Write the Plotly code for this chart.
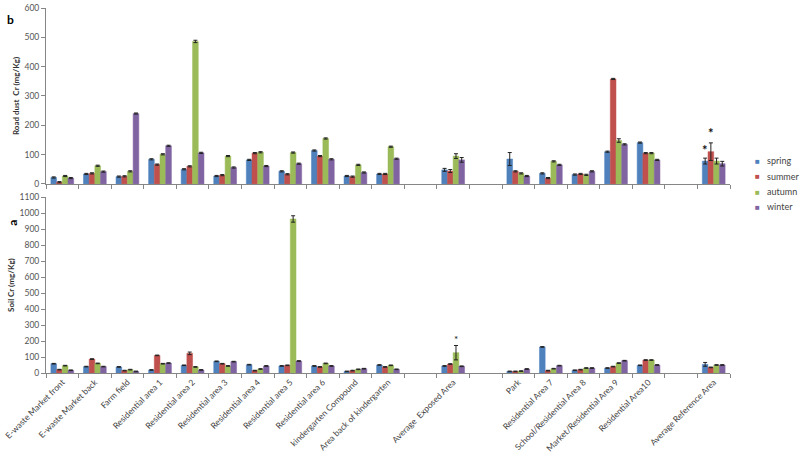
import plotly.graph_objects as go
from plotly.subplots import make_subplots

categories = ["E-waste Market front", "E-waste Market back", "Farm field", "Residential area 1",
              "Residential area 2", "Residential area 3", "Residential area 4", "Residential area 5",
              "Residential area 6", "kindergarten Compound", "Area back of kindergarten", " ",
              "Average  Exposed Area", "  ", "Park", "Residential Area 7", "School/Residential Area 8",
              "Market/Residential Area 9", "Residential Area10", "   ", "Average Reference Area"]
seasons = ["spring", "summer", "autumn", "winter"]
colors = ["#4F81BD", "#C0504D", "#9BBB59", "#8064A2"]

N = None
# Road dust Cr (mg/Kg)
dust_spring = [22, 34, 25, 84, 50, 27, 82, 43, 114, 27, 34, N, 48, N, 85, 36, 32, 110, 141, N, 78]
dust_summer = [6, 36, 26, 66, 60, 30, 105, 33, 95, 25, 34, N, 44, N, 43, 20, 34, 358, 105, N, 110]
dust_autumn = [27, 62, 43, 101, 486, 95, 108, 107, 155, 65, 127, N, 95, N, 36, 77, 31, 148, 105, N, 78]
dust_winter = [20, 42, 240, 130, 106, 56, 61, 69, 84, 39, 86, N, 82, N, 27, 65, 43, 135, 82, N, 69]
dust_err_spring = [2, 2, 2, 2, 2, 2, 2, 2, 2, 2, 2, N, 5, N, 22, 2, 2, 2, 2, N, 10]
dust_err_summer = [2, 2, 2, 2, 2, 2, 2, 2, 2, 2, 2, N, 5, N, 2, 2, 2, 2, 2, N, 30]
dust_err_autumn = [2, 2, 2, 2, 4, 2, 2, 2, 2, 2, 2, N, 8, N, 2, 2, 2, 6, 2, N, 10]
dust_err_winter = [2, 2, 2, 2, 2, 2, 2, 2, 2, 2, 2, N, 8, N, 2, 2, 2, 2, 2, N, 8]

# Soil Cr (mg/Kg)
soil_spring = [58, 40, 38, 19, 48, 73, 52, 44, 44, 10, 50, N, 44, N, 10, 163, 17, 31, 48, N, 54]
soil_summer = [21, 87, 15, 110, 123, 58, 15, 48, 38, 15, 38, N, 56, N, 10, 15, 21, 40, 81, N, 35]
soil_autumn = [46, 60, 21, 58, 38, 44, 25, 963, 60, 23, 48, N, 127, N, 12, 27, 31, 62, 81, N, 50]
soil_winter = [17, 40, 10, 62, 19, 71, 44, 75, 44, 27, 23, N, 42, N, 25, 46, 31, 77, 50, N, 50]
soil_err_spring = [2, 2, 2, 2, 2, 2, 2, 2, 2, 2, 2, N, 2, N, 2, 2, 2, 2, 2, N, 12]
soil_err_summer = [2, 2, 2, 2, 8, 2, 2, 2, 2, 2, 2, N, 2, N, 2, 2, 2, 2, 2, N, 2]
soil_err_autumn = [2, 2, 2, 2, 2, 2, 2, 20, 2, 2, 2, N, 45, N, 2, 2, 2, 2, 2, N, 2]
soil_err_winter = [2, 2, 2, 2, 2, 2, 2, 2, 2, 2, 2, N, 2, N, 2, 2, 2, 2, 2, N, 2]

dust = [dust_spring, dust_summer, dust_autumn, dust_winter]
dust_err = [dust_err_spring, dust_err_summer, dust_err_autumn, dust_err_winter]
soil = [soil_spring, soil_summer, soil_autumn, soil_winter]
soil_err = [soil_err_spring, soil_err_summer, soil_err_autumn, soil_err_winter]

FONT = "Lato, Open Sans, sans-serif"

fig = make_subplots(rows=2, cols=1)

for i, s in enumerate(seasons):
    fig.add_trace(go.Bar(x=categories, y=dust[i], name=s, marker_color=colors[i],
                         marker_line=dict(color=colors[i], width=0.5), legendgroup=s, showlegend=False,
                         error_y=dict(type="data", array=dust_err[i], color="#222", thickness=1, width=2)),
                  row=1, col=1)
for i, s in enumerate(seasons):
    fig.add_trace(go.Bar(x=categories, y=soil[i], name=s, marker_color=colors[i],
                         marker_line=dict(color=colors[i], width=0.5), legendgroup=s, showlegend=False,
                         error_y=dict(type="data", array=soil_err[i], color="#222", thickness=1, width=2)),
                  row=2, col=1)

axis_common = dict(showline=True, linecolor="#868686", linewidth=1, showgrid=False, zeroline=False,
                   automargin=False)
fig.update_xaxes(**axis_common, ticks="outside", tickson="boundaries", ticklen=4, tickcolor="#868686",
                 categoryorder="array", categoryarray=categories)
fig.update_xaxes(showticklabels=False, row=1, col=1)
fig.update_xaxes(tickangle=-45, tickfont=dict(size=8.5, color="#444", family=FONT), row=2, col=1)
fig.update_yaxes(**axis_common, ticks="outside", ticklen=4, tickcolor="#868686",
                 tickfont=dict(size=8.5, color="#555", family=FONT))
fig.update_yaxes(range=[0, 600], dtick=100, domain=[0.518, 1.0], row=1, col=1,
                 title=dict(text="<b>Road dust  Cr (mg/Kg)</b>", font=dict(size=8, color="#333", family=FONT),
                            standoff=3))
fig.update_yaxes(range=[0, 1100], dtick=100, domain=[0.0, 0.482], row=2, col=1,
                 title=dict(text="<b>Soil Cr (mg/Kg)</b>", font=dict(size=8, color="#333", family=FONT),
                            standoff=3))

# significance markers
gw = 0.7 / 4
idx_ref = categories.index("Average Reference Area")
idx_exp = categories.index("Average  Exposed Area")
fig.add_annotation(x=idx_ref - 1.5 * gw, y=dust_spring[idx_ref] + dust_err_spring[idx_ref], text="<b>*</b>",
                   showarrow=False, yshift=8, font=dict(size=13, color="#111"), xref="x", yref="y")
fig.add_annotation(x=idx_ref - 0.5 * gw, y=dust_summer[idx_ref] + dust_err_summer[idx_ref], text="<b>*</b>",
                   showarrow=False, yshift=10, font=dict(size=13, color="#111"), xref="x", yref="y")
fig.add_annotation(x=idx_exp + 0.5 * gw, y=soil_autumn[idx_exp] + soil_err_autumn[idx_exp], text="*",
                   showarrow=False, yshift=6, font=dict(size=10, color="#111"), xref="x2", yref="y2")

# panel letters
fig.add_annotation(text="<b>b</b>", x=-0.052, y=0.968, xref="paper", yref="paper", showarrow=False,
                   xanchor="center", yanchor="middle", font=dict(size=12, color="#000", family=FONT))
fig.add_annotation(text="<b>a</b>", x=-0.049, y=0.413, xref="paper", yref="paper", showarrow=False,
                   xanchor="center", yanchor="middle", font=dict(size=12, color="#000", family=FONT),
                   textangle=-90)

# legend (drawn as text entries)
leg_y0 = 0.581
for i, s in enumerate(seasons):
    yy = leg_y0 - i * 0.042
    fig.add_annotation(text="■", x=1.0405, y=yy, xref="paper", yref="paper", showarrow=False,
                       xanchor="center", yanchor="middle", font=dict(size=8, color=colors[i]))
    fig.add_annotation(text=s, x=1.051, y=yy, xref="paper", yref="paper", showarrow=False,
                       xanchor="left", yanchor="middle", font=dict(size=9, color="#444", family=FONT))

fig.update_layout(
    width=800, height=455,
    margin=dict(l=46, r=70, t=8, b=82, autoexpand=False),
    barmode="group", bargap=0.3, bargroupgap=0,
    plot_bgcolor="white", paper_bgcolor="white",
    font=dict(family=FONT, color="#444"),
    showlegend=False,
)

fig.write_html("out.html", config={"displayModeBar": False},
               post_script="document.body.style.margin='0';document.body.style.overflow='hidden';")
